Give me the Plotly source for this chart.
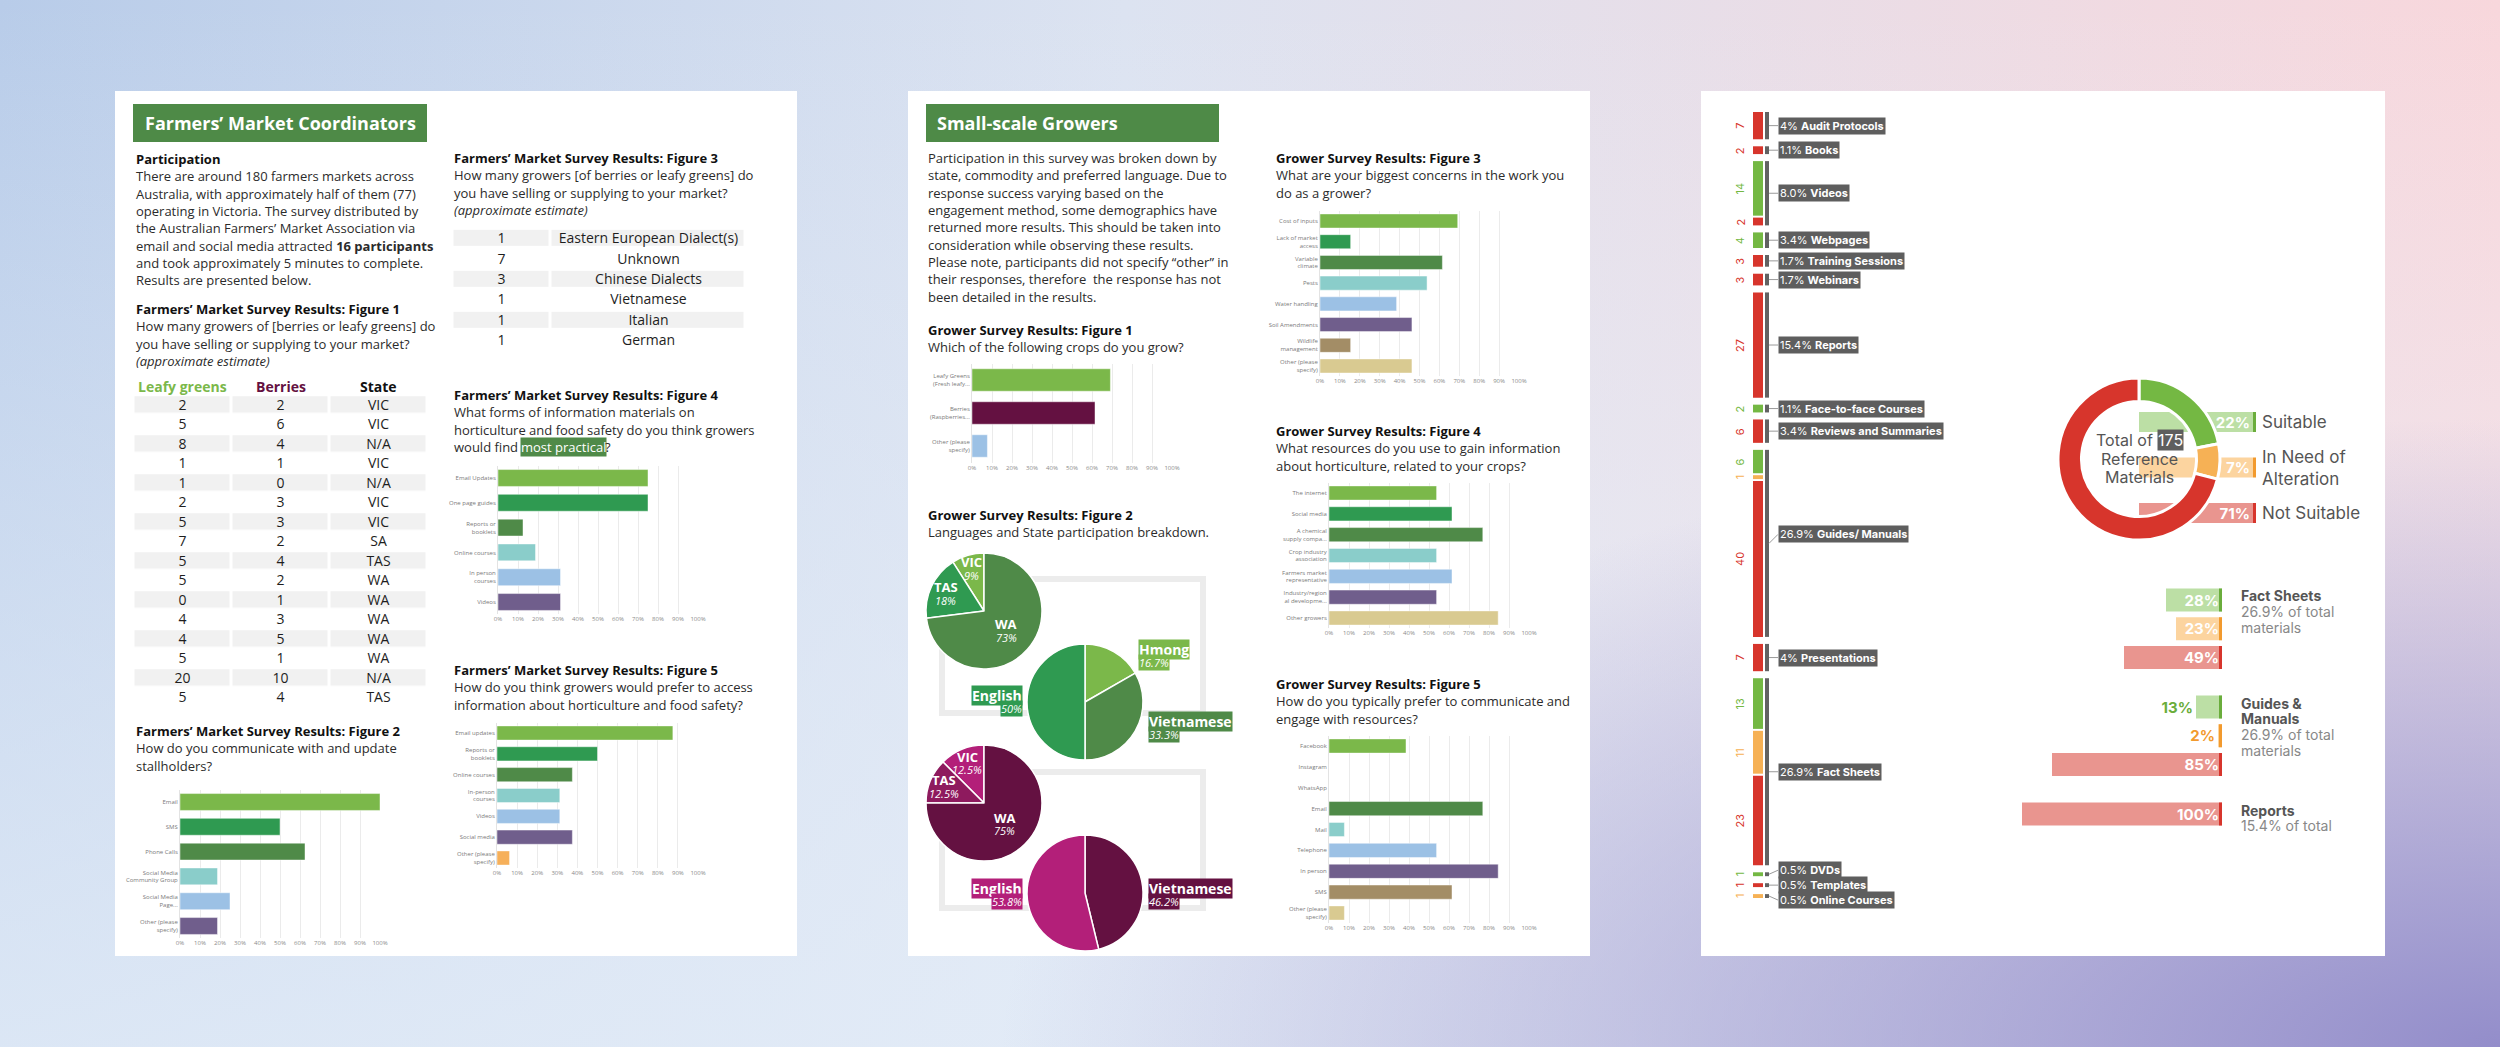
import base64
import math
import plotly.graph_objects as go

W, H = 2500, 1047
BODY = "Open Sans"
RFONT = "Inter"

# ---------------- DATA ----------------
fig1_columns = ["Leafy greens", "Berries", "State"]
fig1_leafy = [2, 5, 8, 1, 1, 2, 5, 7, 5, 5, 0, 4, 4, 5, 20, 5]
fig1_berries = [2, 6, 4, 1, 0, 3, 3, 2, 4, 2, 1, 3, 5, 1, 10, 4]
fig1_state = ["VIC", "VIC", "N/A", "VIC", "N/A", "VIC", "VIC", "SA", "TAS", "WA", "WA", "WA", "WA", "WA", "N/A", "TAS"]

fm2_labels = ["Email", "SMS", "Phone Calls", "Social Media<br>Community Group", "Social Media<br>Page...", "Other (please<br>specify)"]
fm2_values = [100, 50, 62.5, 18.75, 25, 18.75]

fm3_counts = [1, 7, 3, 1, 1, 1]
fm3_languages = ["Eastern European Dialect(s)", "Unknown", "Chinese Dialects", "Vietnamese", "Italian", "German"]

fm4_labels = ["Email Updates", "One page guides", "Reports or<br>booklets", "Online courses", "In person<br>courses", "Videos"]
fm4_values = [75, 75, 12.5, 18.75, 31.25, 31.25]

fm5_labels = ["Email updates", "Reports or<br>booklets", "Online courses", "In-person<br>courses", "Videos", "Social media", "Other (please<br>specify)"]
fm5_values = [87.5, 50, 37.5, 31.25, 31.25, 37.5, 6.25]

g1_labels = ["Leafy Greens<br>(Fresh leafy...", "Berries<br>(Raspberries...", "Other (please<br>specify)"]
g1_values = [69.2, 61.5, 7.7]

g2_green_states = ["VIC", "TAS", "WA"]
g2_green_state_pct = [9, 18, 73]
g2_green_langs = ["Hmong", "Vietnamese", "English"]
g2_green_lang_pct = [16.7, 33.3, 50]
g2_berry_states = ["VIC", "TAS", "WA"]
g2_berry_state_pct = [12.5, 12.5, 75]
g2_berry_langs = ["Vietnamese", "English"]
g2_berry_lang_pct = [46.2, 53.8]

g3_labels = ["Cost of inputs", "Lack of market<br>access", "Variable<br>climate", "Pests", "Water handling", "Soil Amendments", "Wildlife<br>management", "Other (please<br>specify)"]
g3_values = [69.2, 15.4, 61.5, 53.8, 38.5, 46.2, 15.4, 46.2]

g4_labels = ["The internet", "Social media", "A chemical<br>supply compa...", "Crop industry<br>association", "Farmers market<br>representative", "Industry/region<br>al developme...", "Other growers"]
g4_values = [53.8, 61.5, 76.9, 53.8, 61.5, 53.8, 84.6]

g5_labels = ["Facebook", "Instagram", "WhatsApp", "Email", "Mail", "Telephone", "In person", "SMS", "Other (please<br>specify)"]
g5_values = [38.5, 0, 0, 76.9, 7.7, 53.8, 84.6, 61.5, 7.7]

mat_names = ["Audit Protocols", "Books", "Videos", "Webpages", "Training Sessions", "Webinars", "Reports",
             "Face-to-face Courses", "Reviews and Summaries", "Guides/ Manuals", "Presentations", "Fact Sheets",
             "DVDs", "Templates", "Online Courses"]
mat_share = ["4%", "1.1%", "8.0%", "3.4%", "1.7%", "1.7%", "15.4%", "1.1%", "3.4%", "26.9%", "4%", "26.9%", "0.5%", "0.5%", "0.5%"]
seg_material = [0, 1, 2, 2, 3, 4, 5, 6, 7, 8, 9, 9, 9, 10, 11, 11, 11, 12, 13, 14]
seg_status = ["N", "N", "S", "N", "S", "N", "N", "N", "S", "N", "S", "A", "N", "N", "S", "A", "N", "S", "N", "A"]
seg_count = [7, 2, 14, 2, 4, 3, 3, 27, 2, 6, 6, 1, 40, 7, 13, 11, 23, 1, 1, 1]

status_codes = ["S", "A", "N"]
status_names = ["Suitable", "In Need of<br>Alteration", "Not Suitable"]
status_pct = [22, 7, 71]
total_materials = 175

bd_titles = [["Fact Sheets"], ["Guides &", "Manuals"], ["Reports"]]
bd_share = ["26.9%", "26.9%", "15.4%"]
bd_group = [0, 0, 0, 1, 1, 1, 2]
bd_status = ["S", "A", "N", "S", "A", "N", "N"]
bd_pct = [28, 23, 49, 13, 2, 85, 100]

# ---------------- STYLE ----------------
C_LG = "#7bb84a"; C_G = "#2f9a51"; C_DG = "#4f8a48"; C_TEAL = "#8acdca"; C_LB = "#9cc1e5"
C_PUR = "#705e8c"; C_ORG = "#f6b05a"; C_BRN = "#a38d66"; C_TAN = "#d9ca91"
C_MAROON = "#641141"; C_MAG = "#b31f79"; C_MID = "#8e1a5e"
ST_COL = {"S": "#74b843", "A": "#f6b155", "N": "#d7352c"}
ST_LIGHT = {"S": "#bcdfa5", "A": "#fcd49f", "N": "#e9958f"}
ST_EDGE = {"S": "#6aad3c", "A": "#f29a2e", "N": "#d7352c"}
HEAD_GREEN = "#4e8a47"
TXT = "#2b2b2b"
TITLE = "#111111"


def X(px):
    return px / W


def Y(py):
    return 1 - py / H


fig = go.Figure()
axes = {}
annotations = []
shapes = []
counter = [1]


def new_k():
    counter[0] += 1
    return counter[0]


def ann(x, y, text, size=13, color=TXT, anchor="left", family=BODY, **kw):
    d = dict(x=X(x), y=Y(y), xref="paper", yref="paper", text=text, showarrow=False,
             xanchor=anchor, yanchor="middle", font=dict(size=size, color=color, family=family))
    d.update(kw)
    annotations.append(d)


def rect(x0, y0, x1, y1, fill, line=None, lw=0):
    shapes.append(dict(type="rect", xref="paper", yref="paper", x0=X(x0), x1=X(x1), y0=Y(y1), y1=Y(y0),
                       fillcolor=fill, line=dict(color=line or fill, width=lw), layer="below"))


def block(x, y0, lines, step=17.3, size=13):
    for i, ln in enumerate(lines):
        if ln.startswith("#"):
            ann(x, y0 + i * step, "<b>" + ln[1:] + "</b>", size=size, color=TITLE)
        elif ln.startswith("~"):
            ann(x, y0 + i * step, "<i>" + ln[1:] + "</i>", size=size, color=TXT)
        else:
            ann(x, y0 + i * step, ln, size=size, color=TXT)


PCT_TICKS = list(range(0, 101, 10))


def add_hbar(labels, values, colors, x0, x1, c_first, c_last):
    k = new_k()
    n = len(labels)
    sp = (c_last - c_first) / (n - 1)
    fig.add_trace(go.Bar(x=values, y=labels, orientation="h",
                         marker=dict(color=colors, line=dict(color="rgba(255,255,255,0.45)", width=1)),
                         xaxis=f"x{k}", yaxis=f"y{k}", hoverinfo="skip", showlegend=False))
    axes[f"xaxis{k}"] = dict(domain=[X(x0), X(x1)], range=[0, 100], anchor=f"y{k}",
                             tickmode="array", tickvals=PCT_TICKS, ticktext=[f"{t}%" for t in PCT_TICKS],
                             showgrid=True, gridcolor="#ebebeb", gridwidth=1, zeroline=False, showline=False,
                             ticks="", tickfont=dict(size=6, color="#8a8a8a", family=BODY),
                             fixedrange=True, automargin=False)
    axes[f"yaxis{k}"] = dict(domain=[Y(c_last + sp / 2), Y(c_first - sp / 2)], anchor=f"x{k}",
                             type="category", categoryorder="array", categoryarray=labels,
                             autorange="reversed", showgrid=False, zeroline=False, showline=True,
                             linecolor="#e3e3e3", ticks="", tickfont=dict(size=6, color="#7a7a7a", family=BODY),
                             automargin=False, fixedrange=True)


def add_table(columns_text, x_edges, xd0, xd1, c_first, step, gap_y=3.5):
    k = new_k()
    n = len(columns_text[0])
    z = [[1 if r % 2 == 0 else 0 for _ in columns_text] for r in range(n)]
    text = [[str(col[r]) for col in columns_text] for r in range(n)]
    fig.add_trace(go.Heatmap(z=z, x=x_edges, y=list(range(n)), text=text, texttemplate="%{text}",
                             textfont=dict(size=14, color="#1e1e1e", family=BODY),
                             colorscale=[[0, "rgba(255,255,255,0)"], [1, "#f1f1f1"]], zmin=0, zmax=1,
                             showscale=False, xgap=3, ygap=gap_y, hoverinfo="skip",
                             xaxis=f"x{k}", yaxis=f"y{k}"))
    axes[f"xaxis{k}"] = dict(domain=[X(xd0), X(xd1)], range=[x_edges[0], x_edges[-1]], visible=False,
                             anchor=f"y{k}", fixedrange=True)
    axes[f"yaxis{k}"] = dict(domain=[Y(c_first + (n - 0.5) * step), Y(c_first - step / 2)],
                             range=[n - 0.5, -0.5], visible=False, anchor=f"x{k}", fixedrange=True)
    return k


def add_pie(labels, values, colors, cx, cy, r, direction, hole=0, line_w=1.5, rotation=0):
    fig.add_trace(go.Pie(labels=labels, values=values, sort=False, direction=direction, hole=hole,
                         rotation=rotation, textinfo="none",
                         marker=dict(colors=colors, line=dict(color="white", width=line_w)),
                         domain=dict(x=[X(cx - r), X(cx + r)], y=[Y(cy + r), Y(cy - r)]),
                         showlegend=False, hoverinfo="skip"))


def state_pie(labels, values, colors, cx, cy, r):
    # slices run counter-clockwise, the first one ending at 12 o'clock
    tot = float(sum(values))
    rot = -values[0] / tot * 360.0
    add_pie(labels, values, colors, cx, cy, r, "counterclockwise", rotation=rot)
    cum = 0.0
    for lab, v in zip(labels, values):
        share = v / tot
        mid = -(cum + share / 2) * 360.0
        cum += share
        rr = r * (0.8 - 0.4 * share)
        lx = cx + rr * math.sin(math.radians(mid))
        ly = cy - rr * math.cos(math.radians(mid))
        ann(lx, ly - 6, f"<b>{lab}</b>", size=13, color="white", anchor="center")
        ann(lx, ly + 7, f"<i>{v}%</i>", size=11, color="white", anchor="center")


# ---------------- BACKGROUND ----------------
svg = f"""<svg xmlns='http://www.w3.org/2000/svg' width='{W}' height='{H}' viewBox='0 0 {W} {H}' preserveAspectRatio='none'>
<defs>
<linearGradient id='h' x1='0' y1='0' x2='1' y2='0'>
<stop offset='0' stop-color='#b8cce9'/><stop offset='0.45' stop-color='#dce3f1'/><stop offset='1' stop-color='#f8d7dc'/></linearGradient>
<linearGradient id='v' x1='0' y1='0' x2='0' y2='1'>
<stop offset='0' stop-color='#eef3fa' stop-opacity='0'/><stop offset='1' stop-color='#e4edf8' stop-opacity='0.8'/></linearGradient>
<radialGradient id='p' cx='1' cy='1' r='0.6'>
<stop offset='0' stop-color='#938dca'/><stop offset='1' stop-color='#938dca' stop-opacity='0'/></radialGradient>
</defs>
<rect width='{W}' height='{H}' fill='url(#h)'/>
<rect width='{W}' height='{H}' fill='url(#v)'/>
<rect width='{W}' height='{H}' fill='url(#p)'/>
</svg>"""
bg_src = "data:image/svg+xml;base64," + base64.b64encode(svg.encode()).decode()

PAGE_T, PAGE_B = 91, 956
for px0, px1 in [(115, 797), (908, 1590), (1701, 2385)]:
    rect(px0, PAGE_T, px1, PAGE_B, "#ffffff")

# ---------------- LEFT PAGE ----------------
rect(133, 104, 427, 142, HEAD_GREEN)
ann(143, 123, "<b>Farmers’ Market Coordinators</b>", size=18, color="white")
block(134, 159, ["#Participation",
                 "There are around 180 farmers markets across",
                 "Australia, with approximately half of them (77)",
                 "operating in Victoria. The survey distributed by",
                 "the Australian Farmers’ Market Association via",
                 "email and social media attracted <b>16 participants</b>",
                 "and took approximately 5 minutes to complete.",
                 "Results are presented below."])
block(134, 309, ["#Farmers’ Market Survey Results: Figure 1",
                 "How many growers of [berries or leafy greens] do",
                 "you have selling or supplying to your market?",
                 "~(approximate estimate)"])

k_t1 = add_table([fig1_leafy, fig1_berries, fig1_state], [-0.5, 0.5, 1.5, 2.5], 133.5, 427.5, 405, 19.5)
for i, (name, col) in enumerate(zip(fig1_columns, [C_LG, C_MAROON, TITLE])):
    annotations.append(dict(x=i, y=Y(387), xref=f"x{k_t1}", yref="paper", text=f"<b>{name}</b>",
                            showarrow=False, xanchor="center", yanchor="middle",
                            font=dict(size=14, color=col, family=BODY)))

block(134, 731, ["#Farmers’ Market Survey Results: Figure 2",
                 "How do you communicate with and update",
                 "stallholders?"])
add_hbar(fm2_labels, fm2_values, [C_LG, C_G, C_DG, C_TEAL, C_LB, C_PUR], 180, 380, 802, 926)

block(452, 158, ["#Farmers’ Market Survey Results: Figure 3",
                 "How many growers [of berries or leafy greens] do",
                 "you have selling or supplying to your market?",
                 "~(approximate estimate)"])
add_table([fm3_counts, fm3_languages], [0, 98, 293], 452.5, 745.5, 238, 20.4, gap_y=4)

block(452, 395, ["#Farmers’ Market Survey Results: Figure 4",
                 "What forms of information materials on",
                 "horticulture and food safety do you think growers"])
ann(452, 447, "would find", color=TXT)
ann(520, 447, "most practical", color="white", bgcolor=C_DG, borderpad=0)
ann(603, 447, "?", color=TXT)
add_hbar(fm4_labels, fm4_values, [C_LG, C_G, C_DG, C_TEAL, C_LB, C_PUR], 498, 698, 478, 602)

block(452, 670, ["#Farmers’ Market Survey Results: Figure 5",
                 "How do you think growers would prefer to access",
                 "information about horticulture and food safety?"])
add_hbar(fm5_labels, fm5_values, [C_LG, C_G, C_DG, C_TEAL, C_LB, C_PUR, C_ORG], 497, 698, 733, 858)

# ---------------- MIDDLE PAGE ----------------
rect(926, 104, 1219, 142, HEAD_GREEN)
ann(935, 123, "<b>Small-scale Growers</b>", size=18, color="white")
block(926, 158, ["Participation in this survey was broken down by",
                 "state, commodity and preferred language. Due to",
                 "response success varying based on the",
                 "engagement method, some demographics have",
                 "returned more results. This should be taken into",
                 "consideration while observing these results.",
                 "Please note, participants did not specify “other” in",
                 "their responses, therefore  the response has not",
                 "been detailed in the results."], step=17.35)
block(926, 330, ["#Grower Survey Results: Figure 1", "Which of the following crops do you grow?"])
add_hbar(g1_labels, g1_values, [C_LG, C_MAROON, C_LB], 972, 1172, 380, 446)
block(926, 515, ["#Grower Survey Results: Figure 2", "Languages and State participation breakdown."])

for fy0, fy1 in [(579, 713), (772, 908)]:
    shapes.append(dict(type="rect", xref="paper", yref="paper", x0=X(942), x1=X(1203), y0=Y(fy1), y1=Y(fy0),
                       line=dict(color="#ececec", width=6), fillcolor="rgba(0,0,0,0)", layer="below"))

state_pie(g2_green_states, g2_green_state_pct, [C_LG, C_G, C_DG], 984, 611, 58)
add_pie(g2_green_langs, g2_green_lang_pct, [C_LG, C_DG, C_G], 1085, 702, 58, "clockwise")
state_pie(g2_berry_states, g2_berry_state_pct, [C_MAG, C_MID, C_MAROON], 984, 803, 58)
add_pie(g2_berry_langs, g2_berry_lang_pct, [C_MAROON, C_MAG], 1085, 893, 58, "clockwise")

callouts = [
    (g2_green_langs, g2_green_lang_pct, [C_LG, C_DG, C_G], [(1138, 649, "left"), (1148, 721, "left"), (1023, 695, "right")]),
    (g2_berry_langs, g2_berry_lang_pct, [C_MAROON, C_MAG], [(1148, 888, "left"), (1023, 888, "right")]),
]
for labs, vals, cols, places in callouts:
    for lab, v, c, (px_, py_, anc) in zip(labs, vals, cols, places):
        ann(px_, py_, f"<b>{lab}</b>", size=14, color="white", anchor=anc, bgcolor=c, borderpad=0)
        ann(px_, py_ + 13, f"<i>{v}%</i>", size=11, color="white", anchor=anc, bgcolor=c, borderpad=0)

block(1274, 158, ["#Grower Survey Results: Figure 3",
                  "What are your biggest concerns in the work you",
                  "do as a grower?"])
add_hbar(g3_labels, g3_values, [C_LG, C_G, C_DG, C_TEAL, C_LB, C_PUR, C_BRN, C_TAN], 1320, 1519, 221, 366)

block(1274, 431, ["#Grower Survey Results: Figure 4",
                  "What resources do you use to gain information",
                  "about horticulture, related to your crops?"])
add_hbar(g4_labels, g4_values, [C_LG, C_G, C_DG, C_TEAL, C_LB, C_PUR, C_TAN], 1329, 1529, 493, 618)

block(1274, 684, ["#Grower Survey Results: Figure 5",
                  "How do you typically prefer to communicate and",
                  "engage with resources?"])
add_hbar(g5_labels, g5_values, [C_LG, C_G, C_G, C_DG, C_TEAL, C_LB, C_PUR, C_BRN, C_TAN], 1329, 1529, 746, 913)

# ---------------- RIGHT PAGE ----------------
GAP_GROUP, GAP_SEG = 1.8, 0.5
starts, gstart, gend = [], {}, {}
pos, prev = 0.0, None
for m, c in zip(seg_material, seg_count):
    if prev is not None:
        pos += GAP_GROUP if m != prev else GAP_SEG
    starts.append(pos)
    gstart.setdefault(m, pos)
    pos += c
    gend[m] = pos
    prev = m
span = pos

k = new_k()
COL_X, BR_X, NUM_X = 38, 47, 20
for st in status_codes:
    idx = [i for i, s in enumerate(seg_status) if s == st]
    fig.add_trace(go.Bar(x=[COL_X] * len(idx), y=[seg_count[i] for i in idx], base=[starts[i] for i in idx],
                         width=10, marker=dict(color=ST_COL[st], line=dict(width=0)),
                         xaxis=f"x{k}", yaxis=f"y{k}", hoverinfo="skip", showlegend=False))
mats = list(range(len(mat_names)))
fig.add_trace(go.Bar(x=[BR_X] * len(mats), y=[gend[m] - gstart[m] for m in mats], base=[gstart[m] for m in mats],
                     width=4, marker=dict(color="#626262", line=dict(width=0)),
                     xaxis=f"x{k}", yaxis=f"y{k}", hoverinfo="skip", showlegend=False))
axes[f"xaxis{k}"] = dict(domain=[X(1720), X(1800)], range=[0, 80], visible=False, anchor=f"y{k}", fixedrange=True)
axes[f"yaxis{k}"] = dict(domain=[Y(898), Y(112)], range=[span, 0], visible=False, anchor=f"x{k}", fixedrange=True)
for s0, c, st in zip(starts, seg_count, seg_status):
    annotations.append(dict(x=NUM_X, y=s0 + c / 2, xref=f"x{k}", yref=f"y{k}", text=str(c), textangle=-90,
                            showarrow=False, font=dict(size=11, color=ST_COL[st], family=RFONT)))
nudge = {"Guides/ Manuals": -9, "DVDs": -4, "Online Courses": 4}
for m in mats:
    annotations.append(dict(x=BR_X + 2, y=(gstart[m] + gend[m]) / 2, xref=f"x{k}", yref=f"y{k}",
                            text=f"{mat_share[m]} <b>{mat_names[m]}</b>", showarrow=True, arrowhead=0,
                            arrowwidth=1, arrowcolor="#9a9a9a", ax=9, ay=nudge.get(mat_names[m], 0),
                            xanchor="left", yanchor="middle", bgcolor="#5e5e5e", borderpad=1,
                            font=dict(size=11, color="white", family=RFONT)))

# status tabs behind donut
k = new_k()
TAB_LEN = 117
tab_y = list(range(len(status_codes)))
fig.add_trace(go.Bar(x=[TAB_LEN - 3] * 3, y=tab_y, orientation="h", width=0.44,
                     marker=dict(color=[ST_LIGHT[s] for s in status_codes], line=dict(width=0)),
                     text=[f"{v}%" for v in status_pct], textposition="inside", insidetextanchor="end",
                     constraintext="none", cliponaxis=False,
                     textfont=dict(size=15, color="white", family=RFONT), texttemplate="<b>%{text}</b>",
                     xaxis=f"x{k}", yaxis=f"y{k}", hoverinfo="skip", showlegend=False))
fig.add_trace(go.Bar(x=[3] * 3, base=[TAB_LEN - 3] * 3, y=tab_y, orientation="h", width=0.44,
                     marker=dict(color=[ST_EDGE[s] for s in status_codes], line=dict(width=0)),
                     xaxis=f"x{k}", yaxis=f"y{k}", hoverinfo="skip", showlegend=False))
axes[f"xaxis{k}"] = dict(domain=[X(2139), X(2256)], range=[0, TAB_LEN], visible=False, anchor=f"y{k}", fixedrange=True)
axes[f"yaxis{k}"] = dict(domain=[Y(535.75), Y(399.25)], range=[2.5, -0.5], visible=False, anchor=f"x{k}", fixedrange=True)
for i, nm in enumerate(status_names):
    annotations.append(dict(x=X(2260), y=i, xref="paper", yref=f"y{k}", text=nm, showarrow=False,
                            xanchor="left", yanchor="middle", align="left",
                            font=dict(size=17, color="#555555", family=RFONT)))

add_pie(status_names, status_pct, [ST_COL[s] for s in status_codes], 2139, 459, 81, "clockwise",
        hole=0.71, line_w=3)
ann(2155, 440, "Total of", size=16, color="#555555", anchor="right", family=RFONT)
ann(2157, 440, str(total_materials), size=16, color="white", anchor="left", family=RFONT, bgcolor="#5e5e5e", borderpad=0)
ann(2139, 459, "Reference", size=16, color="#555555", anchor="center", family=RFONT)
ann(2139, 477, "Materials", size=16, color="#555555", anchor="center", family=RFONT)

# breakdown bars
k = new_k()
ROW0, STEP, GROUP_EXTRA = 600, 28.7, 0.73
bd_y = [i + g * GROUP_EXTRA for i, g in enumerate(bd_group)]
fig.add_trace(go.Bar(x=bd_pct, y=bd_y, orientation="h", width=0.8,
                     marker=dict(color=[ST_LIGHT[s] for s in bd_status], line=dict(width=0)),
                     text=[f"{v}%" for v in bd_pct], texttemplate="<b>%{text}</b>", textposition="auto",
                     insidetextanchor="start", constraintext="none", cliponaxis=False,
                     textfont=dict(size=15, family=RFONT),
                     insidetextfont=dict(color="white"),
                     outsidetextfont=dict(color=[ST_EDGE[s] for s in bd_status]),
                     xaxis=f"x{k}", yaxis=f"y{k}", hoverinfo="skip", showlegend=False))
fig.add_trace(go.Bar(x=[1.5] * len(bd_pct), y=bd_y, orientation="h", width=0.8,
                     marker=dict(color=[ST_EDGE[s] for s in bd_status], line=dict(width=0)),
                     xaxis=f"x{k}", yaxis=f"y{k}", hoverinfo="skip", showlegend=False))
y_lo, y_hi = -0.5, 7.96
axes[f"xaxis{k}"] = dict(domain=[X(2022), X(2222)], range=[100, 0], visible=False, anchor=f"y{k}", fixedrange=True)
axes[f"yaxis{k}"] = dict(domain=[Y(ROW0 + y_hi * STEP), Y(ROW0 + y_lo * STEP)], range=[y_hi, y_lo],
                         visible=False, anchor=f"x{k}", fixedrange=True)
for g, (titles, share) in enumerate(zip(bd_titles, bd_share)):
    first = bd_y[bd_group.index(g)]
    lines = [("<b>" + t + "</b>", "#555555") for t in titles] + [(f"{share} of total", "#888888"), ("materials", "#888888")]
    for j, (t, col) in enumerate(lines):
        annotations.append(dict(x=X(2239), y=first - 0.14 + j * 15.7 / STEP, xref="paper", yref=f"y{k}",
                                text=t, showarrow=False, xanchor="left", yanchor="middle",
                                font=dict(size=14, color=col, family=RFONT)))

# ---------------- LAYOUT ----------------
fig.update_layout(
    width=W, height=H, margin=dict(l=0, r=0, t=0, b=0, pad=0), template="none",
    paper_bgcolor="#e6ebf5", plot_bgcolor="rgba(0,0,0,0)", showlegend=False, hovermode=False,
    bargap=0.32, barmode="overlay", font=dict(family=BODY),
    xaxis=dict(visible=False), yaxis=dict(visible=False),
    images=[dict(source=bg_src, xref="paper", yref="paper", x=0, y=1, sizex=1, sizey=1,
                 xanchor="left", yanchor="top", sizing="stretch", layer="below")],
    shapes=shapes, annotations=annotations, **axes)

fig.write_html("out.html", config={"displayModeBar": False, "staticPlot": True},
               post_script="document.body.style.margin='0';document.body.style.overflow='hidden';")
